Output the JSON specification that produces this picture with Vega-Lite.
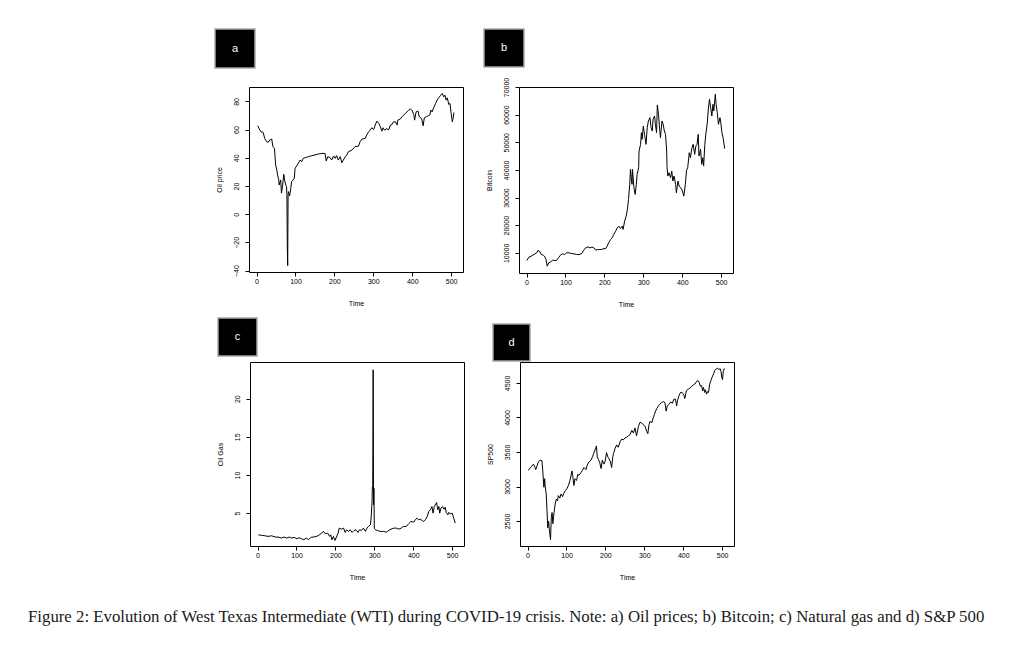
{
"$schema": "https://vega.github.io/schema/vega-lite/v6.json",
"background": "white",
"padding": {"left": 28, "top": 28, "right": 5, "bottom": 5},
"title": {"text": "Figure 2: Evolution of West Texas Intermediate (WTI) during COVID-19 crisis. Note: a) Oil prices; b) Bitcoin; c) Natural gas and d) S&P 500", "orient": "bottom", "anchor": "start", "font": "Liberation Serif", "fontSize": 16.8, "fontWeight": "normal", "color": "#1a1a1a", "offset": 28},
"config": {
  "view": {"stroke": "black", "strokeWidth": 1},
  "axis": {"domain": false, "grid": false, "tickColor": "black", "tickSize": 4, "tickWidth": 1, "labelFont": "Liberation Sans", "labelFontSize": 7, "labelColor": "black", "titleFont": "Liberation Sans", "titleFontSize": 7, "titleFontWeight": "normal", "titleColor": "black", "labelFlush": false, "labelOverlap": false},
  "axisX": {"labelPadding": 1, "titlePadding": 15},
  "axisY": {"labelAngle": 270, "labelAlign": "center", "labelBaseline": "bottom", "labelPadding": 6, "titlePadding": 10},
  "line": {"color": "black", "strokeWidth": 1},
  "text": {"color": "white", "fontSize": 11, "font": "Liberation Sans"}
},
"datasets": {
  "oil": [{"t":3,"v":62.7},{"t":6,"v":61},{"t":11,"v":58.5},{"t":17,"v":58},{"t":21,"v":53.7},{"t":26,"v":51.4},{"t":30,"v":51},{"t":34,"v":52.6},{"t":39,"v":53.3},{"t":42,"v":47.9},{"t":46,"v":46.7},{"t":49,"v":35},{"t":52,"v":31.4},{"t":54,"v":27.8},{"t":57,"v":24.3},{"t":58,"v":20.7},{"t":62,"v":24.3},{"t":64,"v":14.9},{"t":67,"v":20.7},{"t":70,"v":28.3},{"t":72,"v":24.3},{"t":75,"v":20.7},{"t":77,"v":19.6},{"t":78,"v":13.7},{"t":79,"v":-22.9},{"t":80,"v":-36.5},{"t":81,"v":13.7},{"t":82,"v":16},{"t":85,"v":13},{"t":88,"v":18.4},{"t":90,"v":23.1},{"t":94,"v":24.3},{"t":97,"v":25.5},{"t":99,"v":32.5},{"t":103,"v":34.2},{"t":107,"v":36},{"t":112,"v":38.4},{"t":116,"v":37.2},{"t":120,"v":39.6},{"t":125,"v":40.1},{"t":133,"v":40.8},{"t":142,"v":41.5},{"t":150,"v":42},{"t":159,"v":42.7},{"t":168,"v":43.1},{"t":176,"v":43.1},{"t":179,"v":37.7},{"t":183,"v":40.8},{"t":189,"v":40.1},{"t":193,"v":38.4},{"t":198,"v":41.3},{"t":202,"v":39.6},{"t":206,"v":41.5},{"t":210,"v":38.4},{"t":215,"v":40.8},{"t":219,"v":36.5},{"t":223,"v":38.4},{"t":228,"v":40.8},{"t":232,"v":42},{"t":236,"v":44.3},{"t":245,"v":45.5},{"t":253,"v":47.9},{"t":262,"v":48.3},{"t":266,"v":51.4},{"t":271,"v":53.3},{"t":279,"v":53.7},{"t":283,"v":56.1},{"t":288,"v":58.5},{"t":292,"v":59.6},{"t":296,"v":61.3},{"t":301,"v":60.1},{"t":305,"v":63.2},{"t":309,"v":66},{"t":314,"v":64.4},{"t":318,"v":62},{"t":322,"v":58.9},{"t":325,"v":61.3},{"t":329,"v":59.6},{"t":335,"v":60.8},{"t":339,"v":59.6},{"t":344,"v":63.2},{"t":348,"v":63.7},{"t":352,"v":65.5},{"t":357,"v":65.5},{"t":361,"v":63.2},{"t":363,"v":66.7},{"t":369,"v":67.4},{"t":374,"v":69.1},{"t":382,"v":71.4},{"t":391,"v":73.8},{"t":395,"v":74.5},{"t":399,"v":73.8},{"t":404,"v":70.7},{"t":406,"v":66.7},{"t":410,"v":72.6},{"t":415,"v":73.1},{"t":418,"v":69.1},{"t":424,"v":67.9},{"t":428,"v":62.7},{"t":431,"v":68.4},{"t":436,"v":69.1},{"t":441,"v":69.8},{"t":445,"v":70.3},{"t":448,"v":73.8},{"t":451,"v":72.6},{"t":455,"v":75.4},{"t":460,"v":78.5},{"t":464,"v":80.9},{"t":468,"v":82.5},{"t":473,"v":84.4},{"t":477,"v":85.6},{"t":481,"v":83.2},{"t":484,"v":84.4},{"t":487,"v":80.9},{"t":490,"v":82.5},{"t":494,"v":77.8},{"t":497,"v":78.5},{"t":500,"v":71.4},{"t":503,"v":65.5},{"t":505,"v":67.9},{"t":507,"v":72.1}],
  "btc": [{"t":1,"v":7222},{"t":6,"v":8430},{"t":12,"v":8792},{"t":19,"v":9396},{"t":26,"v":10000},{"t":29,"v":10845},{"t":33,"v":10604},{"t":38,"v":9396},{"t":43,"v":9155},{"t":46,"v":8792},{"t":50,"v":7585},{"t":53,"v":5169},{"t":57,"v":6377},{"t":62,"v":6739},{"t":67,"v":7343},{"t":72,"v":7222},{"t":77,"v":7222},{"t":82,"v":8188},{"t":87,"v":9155},{"t":92,"v":9638},{"t":98,"v":9396},{"t":103,"v":10000},{"t":109,"v":10000},{"t":115,"v":9758},{"t":122,"v":9638},{"t":128,"v":9396},{"t":135,"v":9396},{"t":142,"v":9758},{"t":147,"v":10966},{"t":152,"v":11812},{"t":158,"v":12174},{"t":163,"v":11812},{"t":168,"v":12053},{"t":173,"v":11812},{"t":178,"v":10966},{"t":183,"v":11208},{"t":188,"v":11208},{"t":193,"v":11208},{"t":199,"v":11570},{"t":203,"v":11449},{"t":207,"v":12415},{"t":211,"v":13623},{"t":216,"v":14831},{"t":220,"v":15435},{"t":224,"v":16642},{"t":229,"v":17850},{"t":233,"v":19058},{"t":237,"v":19662},{"t":241,"v":18816},{"t":246,"v":19662},{"t":248,"v":18454},{"t":252,"v":21473},{"t":256,"v":23285},{"t":259,"v":25700},{"t":262,"v":29323},{"t":265,"v":34758},{"t":267,"v":40193},{"t":269,"v":37173},{"t":271,"v":34758},{"t":272,"v":40193},{"t":276,"v":33550},{"t":279,"v":31135},{"t":282,"v":34758},{"t":284,"v":38381},{"t":288,"v":40796},{"t":289,"v":46835},{"t":293,"v":49250},{"t":295,"v":53477},{"t":297,"v":51062},{"t":300,"v":55892},{"t":303,"v":52873},{"t":307,"v":49250},{"t":310,"v":55288},{"t":313,"v":57704},{"t":317,"v":58911},{"t":320,"v":55288},{"t":323,"v":54081},{"t":325,"v":58308},{"t":329,"v":59515},{"t":331,"v":56496},{"t":334,"v":53477},{"t":336,"v":63500},{"t":339,"v":60119},{"t":342,"v":54685},{"t":344,"v":51666},{"t":348,"v":57704},{"t":351,"v":56496},{"t":354,"v":54081},{"t":357,"v":52873},{"t":360,"v":46835},{"t":361,"v":40796},{"t":363,"v":37777},{"t":366,"v":38985},{"t":370,"v":37173},{"t":373,"v":39589},{"t":376,"v":35966},{"t":379,"v":37777},{"t":383,"v":34758},{"t":385,"v":31739},{"t":389,"v":35966},{"t":392,"v":34154},{"t":396,"v":33550},{"t":400,"v":32584},{"t":404,"v":30531},{"t":408,"v":34758},{"t":411,"v":39831},{"t":414,"v":40796},{"t":418,"v":46231},{"t":421,"v":44419},{"t":425,"v":48042},{"t":428,"v":49250},{"t":432,"v":45627},{"t":435,"v":48646},{"t":438,"v":49250},{"t":441,"v":52873},{"t":443,"v":45023},{"t":447,"v":47438},{"t":450,"v":42004},{"t":453,"v":44419},{"t":455,"v":41400},{"t":458,"v":49250},{"t":461,"v":53477},{"t":464,"v":56496},{"t":467,"v":61931},{"t":470,"v":65554},{"t":473,"v":62535},{"t":476,"v":59515},{"t":479,"v":63742},{"t":481,"v":61327},{"t":485,"v":67366},{"t":487,"v":63742},{"t":490,"v":60723},{"t":493,"v":56496},{"t":497,"v":58911},{"t":499,"v":57100},{"t":502,"v":53477},{"t":505,"v":51666},{"t":509,"v":47680}],
  "gas": [{"t":2,"v":2.17},{"t":10,"v":2.09},{"t":19,"v":2.04},{"t":27,"v":1.96},{"t":36,"v":2.04},{"t":45,"v":1.87},{"t":53,"v":1.87},{"t":62,"v":1.74},{"t":68,"v":1.87},{"t":75,"v":1.74},{"t":82,"v":1.87},{"t":88,"v":1.74},{"t":94,"v":1.83},{"t":101,"v":1.65},{"t":107,"v":1.78},{"t":113,"v":1.65},{"t":119,"v":1.52},{"t":125,"v":1.74},{"t":131,"v":1.52},{"t":137,"v":1.83},{"t":143,"v":1.87},{"t":152,"v":1.96},{"t":159,"v":2.17},{"t":165,"v":2.39},{"t":169,"v":2.61},{"t":174,"v":2.3},{"t":180,"v":2.39},{"t":185,"v":1.96},{"t":188,"v":2.17},{"t":191,"v":1.52},{"t":195,"v":1.96},{"t":199,"v":1.43},{"t":204,"v":2.04},{"t":207,"v":2.39},{"t":210,"v":3.04},{"t":216,"v":2.91},{"t":221,"v":3.04},{"t":225,"v":2.48},{"t":229,"v":2.83},{"t":234,"v":2.61},{"t":238,"v":2.83},{"t":243,"v":2.48},{"t":248,"v":2.74},{"t":253,"v":2.83},{"t":258,"v":2.48},{"t":262,"v":2.83},{"t":267,"v":2.74},{"t":272,"v":3.04},{"t":277,"v":2.61},{"t":281,"v":3.04},{"t":285,"v":3.26},{"t":290,"v":3.48},{"t":292,"v":4.57},{"t":294,"v":6.3},{"t":295,"v":8.48},{"t":296,"v":8.48},{"t":297,"v":23.78},{"t":298,"v":6.09},{"t":299,"v":8.26},{"t":300,"v":3.04},{"t":303,"v":2.83},{"t":308,"v":2.74},{"t":315,"v":2.61},{"t":324,"v":2.61},{"t":331,"v":2.52},{"t":337,"v":2.74},{"t":343,"v":2.91},{"t":350,"v":3.04},{"t":357,"v":3.04},{"t":363,"v":2.91},{"t":369,"v":3.04},{"t":375,"v":3.26},{"t":382,"v":3.26},{"t":388,"v":3.61},{"t":394,"v":3.91},{"t":401,"v":3.83},{"t":405,"v":4.13},{"t":410,"v":4.35},{"t":414,"v":4.13},{"t":418,"v":4.22},{"t":423,"v":4.04},{"t":427,"v":3.91},{"t":431,"v":4.13},{"t":436,"v":4.57},{"t":440,"v":5.22},{"t":444,"v":5.43},{"t":448,"v":5.87},{"t":451,"v":5},{"t":454,"v":5.87},{"t":458,"v":6.22},{"t":460,"v":6.39},{"t":463,"v":5.43},{"t":466,"v":5.87},{"t":468,"v":5},{"t":471,"v":5.65},{"t":475,"v":5.87},{"t":479,"v":5.52},{"t":482,"v":5.78},{"t":485,"v":5.09},{"t":489,"v":4.78},{"t":491,"v":5.09},{"t":496,"v":4.91},{"t":500,"v":5},{"t":504,"v":4.35},{"t":508,"v":3.7}],
  "sp": [{"t":1,"v":3235},{"t":6,"v":3260},{"t":11,"v":3294},{"t":15,"v":3324},{"t":18,"v":3294},{"t":21,"v":3245},{"t":25,"v":3309},{"t":28,"v":3358},{"t":32,"v":3382},{"t":37,"v":3373},{"t":39,"v":3235},{"t":42,"v":2990},{"t":44,"v":3113},{"t":45,"v":3015},{"t":48,"v":2892},{"t":50,"v":2647},{"t":52,"v":2402},{"t":54,"v":2500},{"t":56,"v":2377},{"t":59,"v":2230},{"t":61,"v":2549},{"t":63,"v":2623},{"t":65,"v":2461},{"t":68,"v":2623},{"t":71,"v":2745},{"t":74,"v":2819},{"t":77,"v":2794},{"t":79,"v":2868},{"t":83,"v":2833},{"t":86,"v":2892},{"t":90,"v":2853},{"t":93,"v":2902},{"t":97,"v":2941},{"t":101,"v":2966},{"t":105,"v":3015},{"t":109,"v":3088},{"t":114,"v":3225},{"t":116,"v":3162},{"t":119,"v":3015},{"t":122,"v":3113},{"t":126,"v":3088},{"t":129,"v":3176},{"t":132,"v":3162},{"t":137,"v":3201},{"t":141,"v":3235},{"t":145,"v":3275},{"t":150,"v":3245},{"t":153,"v":3309},{"t":158,"v":3358},{"t":163,"v":3382},{"t":167,"v":3431},{"t":170,"v":3480},{"t":174,"v":3539},{"t":177,"v":3588},{"t":179,"v":3431},{"t":182,"v":3392},{"t":185,"v":3358},{"t":189,"v":3260},{"t":192,"v":3382},{"t":196,"v":3324},{"t":199,"v":3358},{"t":203,"v":3490},{"t":206,"v":3431},{"t":209,"v":3407},{"t":213,"v":3358},{"t":216,"v":3275},{"t":219,"v":3431},{"t":221,"v":3480},{"t":225,"v":3554},{"t":229,"v":3603},{"t":233,"v":3569},{"t":238,"v":3652},{"t":242,"v":3686},{"t":246,"v":3676},{"t":250,"v":3701},{"t":255,"v":3716},{"t":259,"v":3735},{"t":263,"v":3750},{"t":268,"v":3814},{"t":272,"v":3775},{"t":276,"v":3848},{"t":280,"v":3735},{"t":285,"v":3873},{"t":289,"v":3931},{"t":293,"v":3922},{"t":297,"v":3897},{"t":302,"v":3873},{"t":306,"v":3799},{"t":309,"v":3765},{"t":312,"v":3897},{"t":315,"v":3946},{"t":319,"v":3922},{"t":322,"v":3980},{"t":326,"v":4044},{"t":329,"v":4093},{"t":332,"v":4127},{"t":336,"v":4167},{"t":340,"v":4191},{"t":344,"v":4216},{"t":349,"v":4230},{"t":353,"v":4216},{"t":356,"v":4093},{"t":359,"v":4167},{"t":363,"v":4191},{"t":368,"v":4225},{"t":372,"v":4206},{"t":376,"v":4265},{"t":380,"v":4265},{"t":383,"v":4167},{"t":385,"v":4240},{"t":389,"v":4314},{"t":393,"v":4363},{"t":397,"v":4363},{"t":402,"v":4324},{"t":404,"v":4275},{"t":408,"v":4387},{"t":413,"v":4412},{"t":417,"v":4422},{"t":421,"v":4451},{"t":426,"v":4471},{"t":430,"v":4485},{"t":434,"v":4520},{"t":438,"v":4534},{"t":441,"v":4510},{"t":444,"v":4451},{"t":447,"v":4461},{"t":450,"v":4387},{"t":452,"v":4436},{"t":455,"v":4363},{"t":457,"v":4402},{"t":460,"v":4338},{"t":462,"v":4373},{"t":465,"v":4363},{"t":468,"v":4485},{"t":471,"v":4534},{"t":474,"v":4583},{"t":478,"v":4632},{"t":481,"v":4681},{"t":485,"v":4706},{"t":488,"v":4716},{"t":491,"v":4696},{"t":495,"v":4706},{"t":497,"v":4667},{"t":499,"v":4583},{"t":501,"v":4549},{"t":503,"v":4681},{"t":505,"v":4706},{"t":507,"v":4696}]
},
"spacing": 9,
"vconcat": [
  {"spacing": 7, "vconcat": [
    {"spacing": 0, "hconcat": [
      {"width": 186, "height": 39, "data": {"values": []}, "mark": "point", "view": {"stroke": null, "fill": "white"}},
      {"width": 40, "height": 39, "data": {"values": [{"lab": "a"}]}, "mark": "text", "encoding": {"text": {"field": "lab"}}, "view": {"fill": "black", "stroke": "#a8a8a8", "strokeWidth": 1.5}},
      {"width": 227, "height": 39, "data": {"values": []}, "mark": "point", "view": {"stroke": null, "fill": "white"}},
      {"width": 40, "height": 38, "data": {"values": [{"lab": "b"}]}, "mark": "text", "encoding": {"text": {"field": "lab"}}, "view": {"fill": "black", "stroke": "#a8a8a8", "strokeWidth": 1.5}}
    ]},
    {"spacing": 20, "hconcat": [
      {"width": 166, "height": 10, "data": {"values": []}, "mark": "point", "view": {"stroke": null, "fill": "white"}},
      {"width": 214, "height": 185, "data": {"name": "oil"}, "mark": "line",
       "encoding": {
         "x": {"field": "t", "type": "quantitative", "scale": {"domain": [-19.4, 530.4], "nice": false, "zero": false}, "axis": {"title": "Time", "values": [0,100,200,300,400,500]}},
         "y": {"field": "v", "type": "quantitative", "scale": {"domain": [-41, 90.2], "nice": false, "zero": false}, "axis": {"title": "Oil price", "values": [-40,-20,0,20,40,60,80]}}
       }},
      {"width": 214, "height": 186, "data": {"name": "btc"}, "mark": "line",
       "encoding": {
         "x": {"field": "t", "type": "quantitative", "scale": {"domain": [-19.4, 530.4], "nice": false, "zero": false}, "axis": {"title": "Time", "values": [0,100,200,300,400,500]}},
         "y": {"field": "v", "type": "quantitative", "scale": {"domain": [2700, 70000], "nice": false, "zero": false}, "axis": {"title": "Bitcoin", "format": "d", "values": [10000,20000,30000,40000,50000,60000,70000]}}
       }}
    ]}
  ]},
  {"spacing": -3, "vconcat": [
    {"spacing": 0, "hconcat": [
      {"width": 189, "height": 38, "data": {"values": []}, "mark": "point", "view": {"stroke": null, "fill": "white"}},
      {"width": 39, "height": 38, "data": {"values": [{"lab": "c"}]}, "mark": "text", "encoding": {"text": {"field": "lab"}}, "view": {"fill": "black", "stroke": "#a8a8a8", "strokeWidth": 1.5}},
      {"width": 234, "height": 38, "data": {"values": []}, "mark": "point", "view": {"stroke": null, "fill": "white"}},
      {"spacing": 0, "vconcat": [
        {"width": 37, "height": 5, "data": {"values": []}, "mark": "point", "view": {"stroke": null, "fill": "white"}},
        {"width": 37, "height": 37, "data": {"values": [{"lab": "d"}]}, "mark": "text", "encoding": {"text": {"field": "lab"}}, "view": {"fill": "black", "stroke": "#a8a8a8", "strokeWidth": 1.5}}
      ]}
    ]},
    {"spacing": 20, "hconcat": [
      {"width": 167, "height": 10, "data": {"values": []}, "mark": "point", "view": {"stroke": null, "fill": "white"}},
      {"width": 214, "height": 184, "data": {"name": "gas"}, "mark": "line",
       "encoding": {
         "x": {"field": "t", "type": "quantitative", "scale": {"domain": [-19.4, 530.4], "nice": false, "zero": false}, "axis": {"title": "Time", "values": [0,100,200,300,400,500]}},
         "y": {"field": "v", "type": "quantitative", "scale": {"domain": [0.7, 24.8], "nice": false, "zero": false}, "axis": {"title": "Oil Gas", "values": [5,10,15,20]}}
       }},
      {"width": 214, "height": 184, "data": {"name": "sp"}, "mark": "line",
       "encoding": {
         "x": {"field": "t", "type": "quantitative", "scale": {"domain": [-19.4, 530.4], "nice": false, "zero": false}, "axis": {"title": "Time", "values": [0,100,200,300,400,500]}},
         "y": {"field": "v", "type": "quantitative", "scale": {"domain": [2138, 4804], "nice": false, "zero": false}, "axis": {"title": "SP500", "format": "d", "values": [2500,3000,3500,4000,4500]}}
       }}
    ]}
  ]}
]
}
